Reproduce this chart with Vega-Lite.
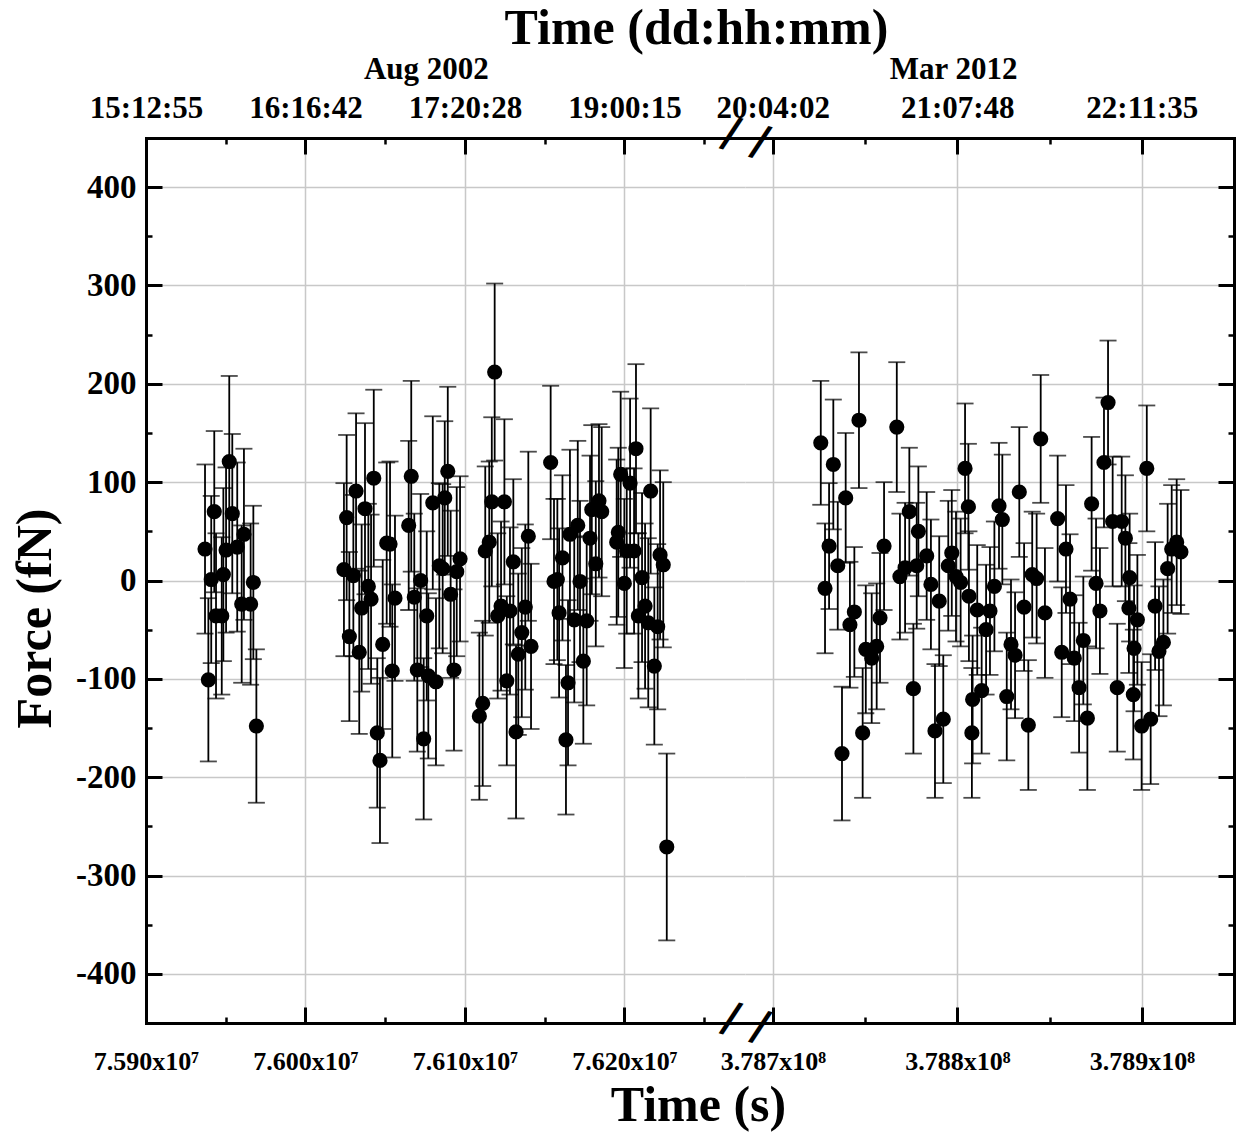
{
  "$schema": "https://vega.github.io/schema/vega-lite/v6.json",
  "background": "white",
  "padding": {"left": 10, "top": 3, "right": 8, "bottom": 5},
  "bounds": "flush",
  "spacing": 0,
  "config": {
    "view": {"stroke": null},
    "font": "Liberation Serif",
    "axis": {
      "labelFont": "Liberation Serif", "labelFontWeight": "bold", "labelColor": "black",
      "titleFont": "Liberation Serif", "titleFontWeight": "bold", "titleColor": "black",
      "domainColor": "black", "domainWidth": 3, "domainCap": "square",
      "tickColor": "black", "tickWidth": 3,
      "gridColor": "#c8c8c8", "gridWidth": 1.5,
      "labelFlush": false, "labelOverlap": false
    }
  },
  "datasets": {
    "left": [
      {"t":75937000,"f":32,"e":86},{"t":75939100,"f":-101,"e":83},{"t":75940900,"f":1,"e":85},{"t":75942800,"f":70,"e":82},
      {"t":75943900,"f":-36,"e":84},{"t":75947500,"f":-36,"e":80},{"t":75948500,"f":6,"e":88},{"t":75950200,"f":31,"e":84},
      {"t":75952200,"f":121,"e":87},{"t":75954100,"f":68,"e":81},{"t":75957200,"f":34,"e":86},{"t":75960000,"f":-24,"e":80},
      {"t":75961400,"f":47,"e":87},{"t":75965600,"f":-24,"e":82},{"t":75967300,"f":-2,"e":78},{"t":75969200,"f":-148,"e":78},
      {"t":76024100,"f":11,"e":88},{"t":76025800,"f":64,"e":84},{"t":76027500,"f":-57,"e":86},{"t":76030000,"f":5,"e":82},
      {"t":76031700,"f":91,"e":79},{"t":76033700,"f":-73,"e":83},{"t":76035200,"f":-28,"e":85},{"t":76037300,"f":73,"e":87},
      {"t":76039400,"f":-6,"e":84},{"t":76041100,"f":-19,"e":86},{"t":76042800,"f":104,"e":90},{"t":76045000,"f":-155,"e":76},
      {"t":76046700,"f":-183,"e":84},{"t":76048400,"f":-65,"e":86},{"t":76050900,"f":38,"e":82},{"t":76053000,"f":37,"e":84},
      {"t":76054400,"f":-92,"e":88},{"t":76056100,"f":-18,"e":84},{"t":76064700,"f":56,"e":86},{"t":76066300,"f":106,"e":97},
      {"t":76068200,"f":-17,"e":85},{"t":76070100,"f":-91,"e":83},{"t":76072200,"f":0,"e":88},{"t":76074100,"f":-161,"e":82},
      {"t":76076000,"f":-36,"e":86},{"t":76077000,"f":-97,"e":84},{"t":76079800,"f":79,"e":88},{"t":76081800,"f":-103,"e":85},
      {"t":76083900,"f":15,"e":84},{"t":76086000,"f":12,"e":86},{"t":76087300,"f":84,"e":78},{"t":76089200,"f":111,"e":86},
      {"t":76091000,"f":-14,"e":85},{"t":76093100,"f":-91,"e":82},{"t":76094800,"f":9,"e":86},{"t":76096900,"f":22,"e":84},
      {"t":76109000,"f":-138,"e":85},{"t":76111100,"f":-125,"e":84},{"t":76112700,"f":30,"e":86},{"t":76115200,"f":39,"e":82},
      {"t":76116800,"f":80,"e":86},{"t":76118600,"f":212,"e":90},{"t":76120500,"f":-36,"e":84},{"t":76122600,"f":-26,"e":86},
      {"t":76124700,"f":80,"e":84},{"t":76126200,"f":-102,"e":86},{"t":76128200,"f":-31,"e":85},{"t":76130300,"f":19,"e":84},
      {"t":76132000,"f":-154,"e":88},{"t":76133400,"f":-75,"e":82},{"t":76135600,"f":-53,"e":86},{"t":76137800,"f":-27,"e":84},
      {"t":76139700,"f":45,"e":86},{"t":76141400,"f":-67,"e":84},{"t":76153700,"f":120,"e":78},{"t":76155800,"f":-1,"e":84},
      {"t":76157900,"f":1,"e":82},{"t":76159000,"f":-33,"e":86},{"t":76161100,"f":23,"e":84},{"t":76163300,"f":-162,"e":76},
      {"t":76164600,"f":-104,"e":84},{"t":76165800,"f":47,"e":86},{"t":76168500,"f":-40,"e":84},{"t":76170700,"f":56,"e":86},
      {"t":76172100,"f":-1,"e":82},{"t":76174200,"f":-82,"e":84},{"t":76176300,"f":-41,"e":86},{"t":76178400,"f":43,"e":84},
      {"t":76179500,"f":72,"e":86},{"t":76182000,"f":17,"e":84},{"t":76184000,"f":81,"e":78},{"t":76185700,"f":70,"e":86},
      {"t":76195100,"f":39,"e":84},{"t":76196100,"f":49,"e":86},{"t":76197600,"f":108,"e":84},{"t":76199900,"f":-3,"e":86},
      {"t":76201400,"f":30,"e":84},{"t":76203500,"f":99,"e":86},{"t":76206000,"f":30,"e":84},{"t":76207200,"f":134,"e":86},
      {"t":76208700,"f":-36,"e":84},{"t":76211000,"f":3,"e":86},{"t":76212900,"f":-26,"e":84},{"t":76214900,"f":-43,"e":86},
      {"t":76216400,"f":91,"e":84},{"t":76218700,"f":-87,"e":80},{"t":76220800,"f":-47,"e":84},{"t":76222300,"f":26,"e":86},
      {"t":76224300,"f":16,"e":84},{"t":76226500,"f":-271,"e":95}
    ],
    "right": [
      {"t":378726000,"f":140,"e":63},{"t":378728300,"f":-8,"e":66},{"t":378730500,"f":35,"e":64},{"t":378732800,"f":118,"e":66},
      {"t":378735200,"f":15,"e":65},{"t":378737500,"f":-176,"e":68},{"t":378739500,"f":84,"e":66},{"t":378741800,"f":-45,"e":64},
      {"t":378744200,"f":-32,"e":66},{"t":378746700,"f":163,"e":69},{"t":378748700,"f":-155,"e":66},{"t":378750400,"f":-70,"e":65},
      {"t":378753600,"f":-79,"e":66},{"t":378756300,"f":-67,"e":64},{"t":378758100,"f":-38,"e":66},{"t":378760300,"f":35,"e":65},
      {"t":378767200,"f":156,"e":66},{"t":378768900,"f":4,"e":64},{"t":378771700,"f":13,"e":66},{"t":378774000,"f":70,"e":65},
      {"t":378776200,"f":-110,"e":66},{"t":378778000,"f":15,"e":64},{"t":378778900,"f":50,"e":66},{"t":378783400,"f":25,"e":65},
      {"t":378785700,"f":-4,"e":66},{"t":378787900,"f":-153,"e":68},{"t":378790200,"f":-21,"e":66},{"t":378792400,"f":-141,"e":65},
      {"t":378795100,"f":15,"e":66},{"t":378797000,"f":28,"e":64},{"t":378799300,"f":4,"e":66},{"t":378801800,"f":-2,"e":65},
      {"t":378804200,"f":114,"e":66},{"t":378806000,"f":75,"e":64},{"t":378806300,"f":-16,"e":66},{"t":378807900,"f":-155,"e":66},
      {"t":378808300,"f":-121,"e":65},{"t":378810800,"f":-30,"e":66},{"t":378813200,"f":-112,"e":64},{"t":378815600,"f":-50,"e":66},
      {"t":378817700,"f":-31,"e":65},{"t":378820100,"f":-6,"e":66},{"t":378822600,"f":76,"e":64},{"t":378824400,"f":62,"e":66},
      {"t":378826800,"f":-118,"e":65},{"t":378829100,"f":-65,"e":66},{"t":378831300,"f":-76,"e":64},{"t":378833600,"f":90,"e":66},
      {"t":378836200,"f":-27,"e":65},{"t":378838500,"f":-147,"e":66},{"t":378840600,"f":6,"e":64},{"t":378843000,"f":2,"e":66},
      {"t":378845200,"f":144,"e":65},{"t":378847500,"f":-33,"e":66},{"t":378854400,"f":63,"e":64},{"t":378856600,"f":-73,"e":66},
      {"t":378858900,"f":32,"e":65},{"t":378861100,"f":-19,"e":66},{"t":378863400,"f":-79,"e":64},{"t":378866000,"f":-109,"e":66},
      {"t":378868300,"f":-61,"e":65},{"t":378870500,"f":-140,"e":73},{"t":378872800,"f":78,"e":68},{"t":378875200,"f":-3,"e":66},
      {"t":378877300,"f":-31,"e":64},{"t":378879500,"f":120,"e":66},{"t":378881700,"f":181,"e":63},{"t":378884200,"f":60,"e":66},
      {"t":378886700,"f":-109,"e":65},{"t":378889100,"f":60,"e":66},{"t":378891100,"f":43,"e":64},{"t":378893000,"f":-28,"e":66},
      {"t":378893400,"f":3,"e":65},{"t":378895400,"f":-116,"e":66},{"t":378895800,"f":-69,"e":64},{"t":378897600,"f":-40,"e":66},
      {"t":378899900,"f":-148,"e":65},{"t":378902700,"f":114,"e":64},{"t":378904800,"f":-141,"e":66},{"t":378907200,"f":-26,"e":65},
      {"t":378909300,"f":-72,"e":66},{"t":378911700,"f":-63,"e":64},{"t":378914000,"f":12,"e":66},{"t":378916200,"f":32,"e":65},
      {"t":378918900,"f":39,"e":64},{"t":378921200,"f":29,"e":63}
    ]
  },
  "hconcat": [
    {
      "width": 599, "height": 885,
      "resolve": {"axis": {"x": "independent", "y": "independent"}},
      "layer": [
        {
          "mark": {"type": "rule", "strokeWidth": 3, "color": "black"},
          "encoding": {"y": {"datum": 0, "type": "quantitative", "scale": {"domain": [-450, 450], "nice": false, "zero": false}, "axis": null}}
        },
        {
          "data": {"name": "left"},
          "mark": {"type": "errorbar", "ticks": true, "size": 17, "thickness": 1.8, "color": "black"},
          "encoding": {
            "x": {"field": "t", "type": "quantitative", "scale": {"domain": [75900000, 76275549], "nice": false, "zero": false},
              "axis": {"orient": "bottom", "values": [75900000, 76000000, 76100000, 76200000],
                "labelExpr": "format(datum.value/1e7,'.3f')+'x10⁷'", "ticks": false, "grid": true, "domain": true,
                "labelFontSize": 26, "labelPadding": 46, "labelBaseline": "alphabetic",
                "title": "Time (s)", "titleFontSize": 50, "titleX": 552, "titleY": 97, "titleBaseline": "alphabetic", "titleAlign": "center"}},
            "y": {"field": "f", "type": "quantitative", "scale": {"domain": [-450, 450], "nice": false, "zero": false},
              "axis": {"orient": "left", "values": [-400, -300, -200, -100, 0, 100, 200, 300, 400], "labelExpr": "'' + datum.value", "ticks": false, "grid": true, "domain": true,
                "labelFontSize": 33, "labelPadding": 10,
                "title": "Force (fN)", "titleFontSize": 50, "titleX": -111, "titleY": 480, "titleAngle": 270, "titleBaseline": "middle", "titleAlign": "center"}},
            "yError": {"field": "e"}
          }
        },
        {
          "data": {"name": "left"},
          "mark": {"type": "circle", "size": 230, "color": "black", "opacity": 1},
          "encoding": {
            "x": {"field": "t", "type": "quantitative",
              "axis": {"orient": "top", "values": [75900000, 76000000, 76100000, 76200000],
                "labelExpr": "datum.value < 75950000 ? '15:12:55' : datum.value < 76050000 ? '16:16:42' : datum.value < 76150000 ? '17:20:28' : '19:00:15'",
                "ticks": false, "grid": false, "domain": true, "labelFontSize": 31, "labelPadding": 21, "labelBaseline": "alphabetic",
                "title": "Time (dd:hh:mm)", "titleFontSize": 50, "titleX": 550, "titleY": -95, "titleBaseline": "alphabetic", "titleAlign": "center"}},
            "y": {"field": "f", "type": "quantitative",
              "axis": {"orient": "left", "values": [-400, -300, -200, -100, 0, 100, 200, 300, 400], "labels": false, "ticks": true, "tickSize": -16, "grid": false, "domain": false, "title": null}}
          }
        },
        {
          "data": {"name": "left"},
          "mark": {"type": "point", "opacity": 0},
          "encoding": {
            "x": {"field": "t", "type": "quantitative",
              "axis": {"orient": "bottom", "values": [76000000, 76100000, 76200000], "labels": false, "ticks": true, "tickSize": -16, "grid": false, "domain": false, "title": null}},
            "y": {"field": "f", "type": "quantitative",
              "axis": {"orient": "left", "values": [-350, -250, -150, -50, 50, 150, 250, 350], "labels": false, "ticks": true, "tickSize": -6, "tickWidth": 2.5, "grid": false, "domain": false, "title": null}}
          }
        },
        {
          "data": {"name": "left"},
          "mark": {"type": "point", "opacity": 0},
          "encoding": {
            "x": {"field": "t", "type": "quantitative",
              "axis": {"orient": "bottom", "values": [75950000, 76050000, 76150000, 76250000], "labels": false, "ticks": true, "tickSize": -6, "tickWidth": 2.5, "grid": false, "domain": false, "title": null}},
            "y": {"field": "f", "type": "quantitative", "axis": null}
          }
        },
        {
          "data": {"name": "left"},
          "mark": {"type": "point", "opacity": 0},
          "encoding": {
            "x": {"field": "t", "type": "quantitative",
              "axis": {"orient": "top", "values": [76000000, 76100000, 76200000], "labels": false, "ticks": true, "tickSize": -16, "grid": false, "domain": false, "title": null}},
            "y": {"field": "f", "type": "quantitative", "axis": null}
          }
        },
        {
          "data": {"name": "left"},
          "mark": {"type": "point", "opacity": 0},
          "encoding": {
            "x": {"field": "t", "type": "quantitative",
              "axis": {"orient": "top", "values": [75950000, 76050000, 76150000, 76250000], "labels": false, "ticks": true, "tickSize": -6, "tickWidth": 2.5, "grid": false, "domain": false, "title": null}},
            "y": {"field": "f", "type": "quantitative", "axis": null}
          }
        },
        {
          "data": {"name": "left"},
          "mark": {"type": "point", "opacity": 0},
          "encoding": {
            "x": {"field": "t", "type": "quantitative",
              "axis": {"orient": "top", "values": [76075500], "labelExpr": "'Aug 2002'", "labels": true, "ticks": false, "grid": false, "domain": false,
                "labelFontSize": 31, "labelPadding": 60, "labelBaseline": "alphabetic", "title": null}},
            "y": {"field": "f", "type": "quantitative", "axis": null}
          }
        }
      ]
    },
    {
      "width": 489, "height": 885,
      "resolve": {"axis": {"x": "independent", "y": "independent"}},
      "layer": [
        {
          "mark": {"type": "rule", "strokeWidth": 3, "color": "black"},
          "encoding": {"y": {"datum": 0, "type": "quantitative", "scale": {"domain": [-450, 450], "nice": false, "zero": false}, "axis": null}}
        },
        {
          "data": {"name": "right"},
          "mark": {"type": "errorbar", "ticks": true, "size": 17, "thickness": 1.8, "color": "black"},
          "encoding": {
            "x": {"field": "t", "type": "quantitative", "scale": {"domain": [378684930, 378949968], "nice": false, "zero": false},
              "axis": {"orient": "bottom", "values": [378700000, 378800000, 378900000],
                "labelExpr": "format(datum.value/1e8,'.3f')+'x10⁸'", "ticks": false, "grid": true, "domain": true,
                "labelFontSize": 26, "labelPadding": 46, "labelBaseline": "alphabetic", "title": null}},
            "y": {"field": "f", "type": "quantitative", "scale": {"domain": [-450, 450], "nice": false, "zero": false},
              "axis": {"orient": "right", "values": [-400, -300, -200, -100, 0, 100, 200, 300, 400], "labels": false, "ticks": true, "tickSize": -16, "grid": true, "domain": true, "title": null}},
            "yError": {"field": "e"}
          }
        },
        {
          "data": {"name": "right"},
          "mark": {"type": "circle", "size": 230, "color": "black", "opacity": 1},
          "encoding": {
            "x": {"field": "t", "type": "quantitative",
              "axis": {"orient": "top", "values": [378700000, 378800000, 378900000],
                "labelExpr": "datum.value < 378750000 ? '20:04:02' : datum.value < 378850000 ? '21:07:48' : '22:11:35'",
                "ticks": false, "grid": false, "domain": true, "labelFontSize": 31, "labelPadding": 21, "labelBaseline": "alphabetic", "title": null}},
            "y": {"field": "f", "type": "quantitative",
              "axis": {"orient": "right", "values": [-350, -250, -150, -50, 50, 150, 250, 350], "labels": false, "ticks": true, "tickSize": -6, "tickWidth": 2.5, "grid": false, "domain": false, "title": null}}
          }
        },
        {
          "data": {"name": "right"},
          "mark": {"type": "point", "opacity": 0},
          "encoding": {
            "x": {"field": "t", "type": "quantitative",
              "axis": {"orient": "bottom", "values": [378700000, 378800000, 378900000], "labels": false, "ticks": true, "tickSize": -16, "grid": false, "domain": false, "title": null}},
            "y": {"field": "f", "type": "quantitative", "axis": null}
          }
        },
        {
          "data": {"name": "right"},
          "mark": {"type": "point", "opacity": 0},
          "encoding": {
            "x": {"field": "t", "type": "quantitative",
              "axis": {"orient": "bottom", "values": [378750000, 378850000], "labels": false, "ticks": true, "tickSize": -6, "tickWidth": 2.5, "grid": false, "domain": false, "title": null}},
            "y": {"field": "f", "type": "quantitative", "axis": null}
          }
        },
        {
          "data": {"name": "right"},
          "mark": {"type": "point", "opacity": 0},
          "encoding": {
            "x": {"field": "t", "type": "quantitative",
              "axis": {"orient": "top", "values": [378700000, 378800000, 378900000], "labels": false, "ticks": true, "tickSize": -16, "grid": false, "domain": false, "title": null}},
            "y": {"field": "f", "type": "quantitative", "axis": null}
          }
        },
        {
          "data": {"name": "right"},
          "mark": {"type": "point", "opacity": 0},
          "encoding": {
            "x": {"field": "t", "type": "quantitative",
              "axis": {"orient": "top", "values": [378750000, 378850000], "labels": false, "ticks": true, "tickSize": -6, "tickWidth": 2.5, "grid": false, "domain": false, "title": null}},
            "y": {"field": "f", "type": "quantitative", "axis": null}
          }
        },
        {
          "data": {"name": "right"},
          "mark": {"type": "point", "opacity": 0},
          "encoding": {
            "x": {"field": "t", "type": "quantitative",
              "axis": {"orient": "top", "values": [378797700], "labelExpr": "'Mar 2012'", "labels": true, "ticks": false, "grid": false, "domain": false,
                "labelFontSize": 31, "labelPadding": 60, "labelBaseline": "alphabetic", "title": null}},
            "y": {"field": "f", "type": "quantitative", "axis": null}
          }
        },
        {
          "data": {"name": "right"},
          "mark": {"type": "point", "opacity": 0},
          "encoding": {
            "x": {"field": "t", "type": "quantitative",
              "axis": {"orient": "top", "values": [378684930], "labelExpr": "'/ /'", "labels": true, "ticks": false, "grid": false, "domain": false,
                "labelFont": "DejaVu Sans", "labelFontWeight": "bold", "labelFontSize": 43, "labelAngle": 16,
                "labelAlign": "center", "labelBaseline": "middle", "labelPadding": 0, "title": null}},
            "y": {"field": "f", "type": "quantitative", "axis": null}
          }
        },
        {
          "data": {"name": "right"},
          "mark": {"type": "point", "opacity": 0},
          "encoding": {
            "x": {"field": "t", "type": "quantitative",
              "axis": {"orient": "bottom", "values": [378684930], "labelExpr": "'/ /'", "labels": true, "ticks": false, "grid": false, "domain": false,
                "labelFont": "DejaVu Sans", "labelFontWeight": "bold", "labelFontSize": 43, "labelAngle": 16,
                "labelAlign": "center", "labelBaseline": "middle", "labelPadding": 0, "title": null}},
            "y": {"field": "f", "type": "quantitative", "axis": null}
          }
        }
      ]
    }
  ]
}
